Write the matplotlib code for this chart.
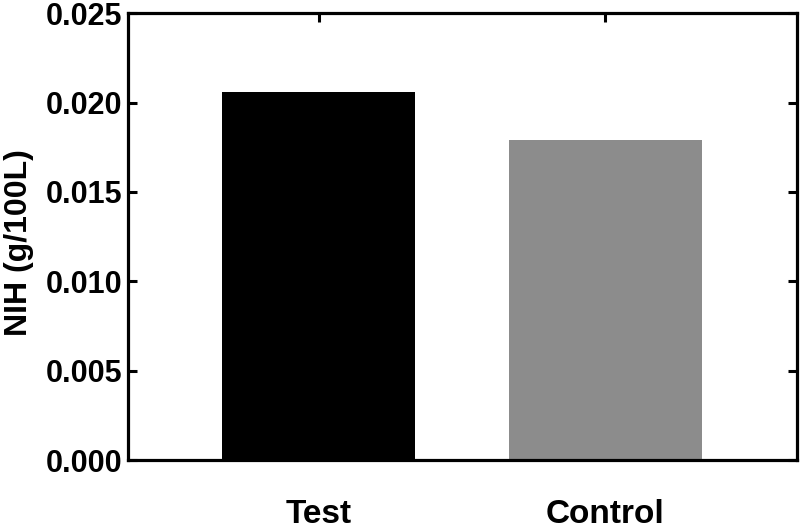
import matplotlib
matplotlib.use("Agg")
import matplotlib.pyplot as plt

# Values
groups = ["Test", "Control"]
nih = [0.0206, 0.0179]
bar_colors = ["#000000", "#8c8c8c"]
y_ticks = [0.000, 0.005, 0.010, 0.015, 0.020, 0.025]

plt.rcParams["font.family"] = ["Liberation Sans", "DejaVu Sans"]
plt.rcParams["font.weight"] = "bold"

fig = plt.figure(figsize=(8, 5.3), dpi=100)
ax = fig.add_axes([0.16, 0.132, 0.836, 0.843])

x = list(range(len(groups)))
ax.bar(x, nih, width=0.672, color=bar_colors, zorder=2)

ax.set_xlim(-0.664, 1.667)
ax.set_ylim(0, 0.025)
ax.set_xticks(x)
ax.set_xticklabels(groups, fontsize=24, fontweight="bold")
ax.set_yticks(y_ticks)
ax.set_yticklabels([f"{v:.3f}" for v in y_ticks], fontsize=22, fontweight="bold")

for s in ax.spines.values():
    s.set_linewidth(2.3)

ax.tick_params(axis="both", direction="in", length=6.5, width=2.2,
               top=True, right=True, zorder=3)
ax.tick_params(axis="x", pad=28)
ax.tick_params(axis="y", pad=4)

ax.set_ylabel("NIH (g/100L)", fontsize=23, fontweight="bold")
ax.yaxis.set_label_coords(-0.141, 0.486)

plt.savefig("out.png", dpi=100)
